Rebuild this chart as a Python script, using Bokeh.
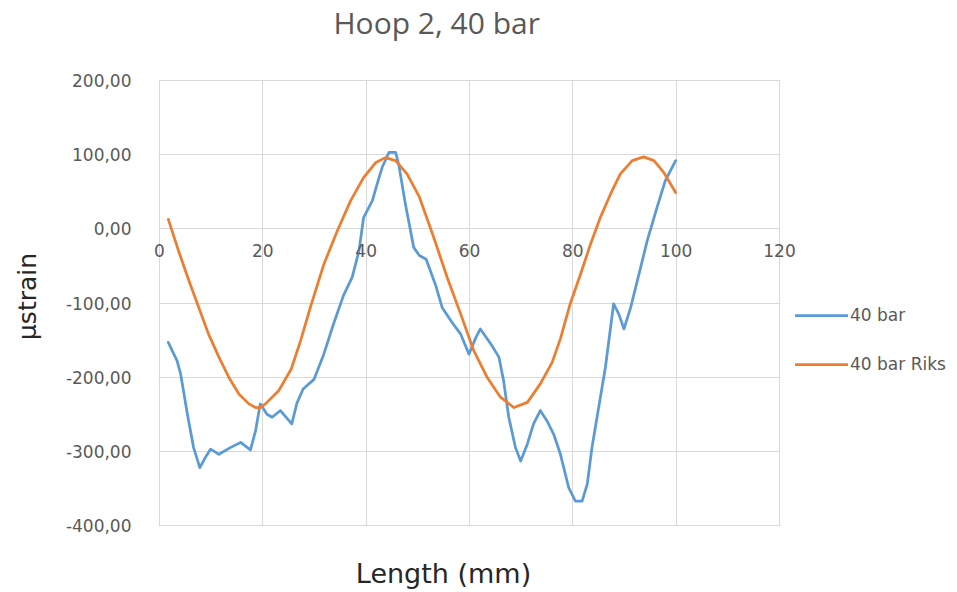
from bokeh.plotting import figure
from bokeh.models import Range1d, FixedTicker, Legend, LegendItem, Label, BoxAnnotation
from bokeh.embed import file_html
from bokeh.resources import INLINE

# Measured hoop strain along the specimen, 40 bar
length_measured = [1.7, 3.4, 4.1, 5.4, 6.6, 7.8, 8.9, 9.9, 11.5, 13.7, 15.7, 17.6, 18.6,
                   19.5, 20.8, 21.8, 23.4, 25.6, 26.6, 27.8, 29.9, 31.8, 33.7, 35.6, 37.3,
                   38.6, 39.5, 41.2, 42.1, 43.1, 44.4, 45.7, 46.3, 47.6, 49.2, 50.3, 51.6,
                   53.4, 54.7, 56.6, 58.3, 59.9, 61.2, 62.1, 64.1, 65.7, 66.6, 67.6, 68.9,
                   69.9, 71.2, 72.4, 73.7, 75.0, 76.3, 77.6, 79.2, 80.5, 81.8, 82.8, 83.7,
                   85.0, 86.3, 87.3, 87.9, 88.9, 89.9, 91.2, 92.8, 94.4, 96.3, 97.9, 99.9]
strain_measured = [-153, -178, -196, -250, -295, -322, -308, -297, -304, -295, -288, -298, -272,
                   -236, -250, -254, -245, -263, -235, -216, -203, -169, -128, -90, -65,
                   -30, 15, 38, 60, 83, 103, 103, 87, 33, -25, -36, -41,
                   -75, -106, -126, -142, -169, -147, -135, -155, -173, -205, -254, -295,
                   -313, -290, -263, -245, -259, -277, -304, -349, -367, -367, -344, -295,
                   -241, -187, -133, -101, -115, -135, -106, -61, -16, 29, 65, 92]

# Riks analysis result, 40 bar
length_riks = [1.7, 3.7, 5.7, 7.6, 9.5, 11.5, 13.4, 15.4, 17.3, 18.6, 19.5, 20.5, 23.1,
               25.5, 27.3, 29.2, 31.8, 34.4, 37.0, 39.5, 41.8, 43.7, 45.7, 47.9, 50.3,
               53.1, 55.7, 58.3, 60.8, 63.4, 66.0, 68.6, 71.2, 73.7, 76.0, 77.6, 79.5,
               81.5, 83.4, 85.3, 87.3, 89.2, 91.5, 93.7, 95.7, 97.6, 99.9]
strain_riks = [13, -30, -70, -106, -142, -173, -200, -223, -236, -241, -241, -236, -218,
               -189, -151, -106, -48, -3, 38, 69, 89, 96, 92, 74, 43,
               -12, -66, -115, -164, -200, -227, -241, -234, -209, -180, -148, -101,
               -61, -21, 15, 47, 74, 92, 97, 92, 76, 49]

x_ticks = [0, 20, 40, 60, 80, 100, 120]
y_ticks = [-400, -300, -200, -100, 0, 100, 200]
y_tick_labels = ["-400,00", "-300,00", "-200,00", "-100,00", "0,00", "100,00", "200,00"]

BLUE = "#5b9bd5"
ORANGE = "#ed7d31"
GRID = "#d9d9d9"
TEXT_GREY = "#595959"
TEXT_DARK = "#262626"

# Plot area is 0..120 mm by -400..200; the frame is larger so that the
# title, axis title and legend can sit inside it.
X0, X1 = -1.935, 154.45
Y0, Y1 = -490.34, 307.87

p = figure(width=957, height=592,
           x_range=Range1d(X0, X1), y_range=Range1d(Y0, Y1),
           min_border_left=149, min_border_right=0, min_border_top=0, min_border_bottom=0,
           output_backend="svg", toolbar_location=None,
           x_axis_location="below", y_axis_location="left")
p.outline_line_color = None
p.background_fill_color = "white"
p.border_fill_color = "white"
p.title.text = ""

p.xgrid.ticker = FixedTicker(ticks=x_ticks)
p.ygrid.ticker = FixedTicker(ticks=y_ticks)
for g in (p.xgrid[0], p.ygrid[0]):
    g.grid_line_color = GRID
    g.grid_line_width = 1
    g.minor_grid_line_color = None

# white masks trimming the gridlines to the plot area
for left, right, bottom, top in [(X0, -0.15, Y0, Y1), (120.15, X1, Y0, Y1),
                                 (X0, X1, 201, Y1), (X0, X1, Y0, -401)]:
    p.add_layout(BoxAnnotation(left=left, right=right, bottom=bottom, top=top,
                               fill_color="white", fill_alpha=1, line_color=None,
                               level="underlay"))

# horizontal axis crossing at zero strain
xa = p.xaxis[0]
xa.fixed_location = 0
xa.bounds = (0, 120)
xa.ticker = FixedTicker(ticks=x_ticks)
xa.axis_line_color = None
xa.major_tick_line_color = None
xa.minor_tick_line_color = None
xa.major_label_standoff = 9
xa.major_label_text_font = "DejaVu Sans"
xa.major_label_text_font_size = "17px"
xa.major_label_text_color = TEXT_GREY

ya = p.yaxis[0]
ya.ticker = FixedTicker(ticks=y_ticks)
ya.major_label_overrides = {t: s for t, s in zip(y_ticks, y_tick_labels)}
ya.axis_line_color = None
ya.major_tick_line_color = None
ya.minor_tick_line_color = None
ya.major_label_standoff = 12
ya.major_label_text_font = "DejaVu Sans"
ya.major_label_text_font_size = "17px"
ya.major_label_text_color = TEXT_GREY
ya.axis_label = "µstrain"
ya.axis_label_standoff = 21
ya.axis_label_text_font = "DejaVu Sans"
ya.axis_label_text_font_size = "25px"
ya.axis_label_text_font_style = "normal"
ya.axis_label_text_color = TEXT_DARK

# chart title and horizontal axis title (pixels from the frame's lower-left corner)
p.add_layout(Label(x=184, y=570, x_units="screen", y_units="screen",
                   text="Hoop 2, 40 bar", text_align="left", text_baseline="middle",
                   text_font="Open Sans", text_font_size="30px", text_color=TEXT_GREY))
p.add_layout(Label(x=294, y=19, x_units="screen", y_units="screen",
                   text="Length (mm)", text_align="center", text_baseline="middle",
                   text_font="DejaVu Sans", text_font_size="27px", text_color=TEXT_DARK))

r_meas = p.line(length_measured, strain_measured, line_color=BLUE, line_width=2.75,
                line_join="round", line_cap="round")
r_riks = p.line(length_riks, strain_riks, line_color=ORANGE, line_width=2.75,
                line_join="round", line_cap="round")

legend = Legend(items=[LegendItem(label="40 bar", renderers=[r_meas]),
                       LegendItem(label="40 bar Riks", renderers=[r_riks])],
                location=(646, 218), orientation="vertical",
                glyph_width=53, glyph_height=20, label_height=20, label_standoff=2,
                spacing=29, padding=0, margin=0,
                border_line_color=None, background_fill_alpha=0,
                label_text_font="DejaVu Sans", label_text_font_size="17px",
                label_text_color=TEXT_GREY)
p.add_layout(legend, "center")

open("out.html", "w").write(file_html(p, INLINE))
